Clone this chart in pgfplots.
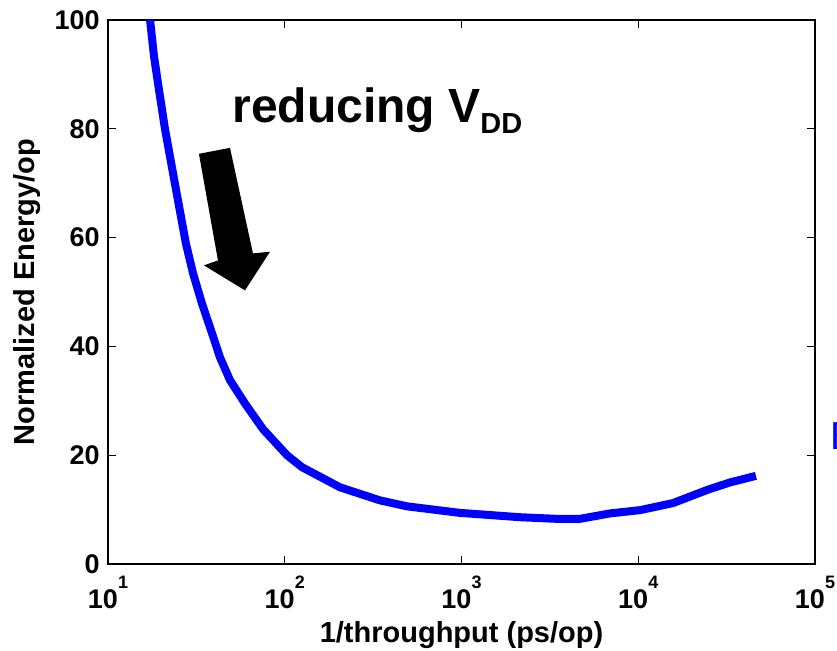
\documentclass[border=0pt]{standalone}
\usepackage{fontspec}
\setmainfont{Liberation Sans}
\usepackage{pgfplots}
\pgfplotsset{compat=1.18}
\newcommand{\tl}{\fontsize{13.5}{13.5}\selectfont\bfseries}
\newcommand{\al}{\fontsize{14.5}{14.5}\selectfont\bfseries}
\newcommand{\ex}[1]{10\raisebox{10pt}{\fontsize{9}{9}\selectfont #1}}
\begin{document}
\begin{tikzpicture}
\begin{axis}[
  name=ax,
  scale only axis,
  width=353.5pt, height=272pt,
  xmode=log, log basis x=10,
  xmin=10, xmax=100000, ymin=0, ymax=100,
  xtick={10,100,1000,10000,100000},
  xticklabels={\ex{1},\ex{2},\ex{3},\ex{4},\ex{5}},
  ytick={0,20,40,60,80,100},
  tick align=inside,
  major tick length=4pt, minor tick length=2pt,
  every tick/.style={black, line width=0.6pt},
  axis line style={line width=1pt, black},
  /pgf/number format/assume math mode=true,
  yticklabel style={font=\tl, anchor=east, inner sep=0pt, xshift=-4pt},
  xticklabel style={font=\tl, anchor=base, inner sep=0pt, yshift=-22pt},
  xlabel={1/throughput (ps/op)},
  ylabel={Normalized Energy/op},
  xlabel style={at={(axis description cs:0.5,-0.1452)}, anchor=base, inner sep=0pt, font=\al},
  ylabel style={at={(axis description cs:-0.1033,0.5)}, anchor=base, inner sep=0pt, font=\al},
  clip mode=individual,
]
\addplot[blue, line width=4pt] coordinates {
(16.9,103.5) (17.3,100) (18.2,93.4) (19.2,88.3) (21.0,80.0) (24.9,66.8)
(27.6,58.9) (30.3,53.4) (34.0,47.9) (38.8,42.4) (43.0,38.0) (49.0,33.8)
(59.6,29.5) (75.3,24.8) (103,20.0) (125.2,17.8) (205.4,14.1) (345.8,11.7)
(491.7,10.6) (980,9.4) (2143,8.6) (3467,8.3) (4677,8.3) (6918,9.3)
(10230,9.9) (15730,11.2) (24490,13.6) (33040,15.0) (46340,16.2)
};
\fill[black] (axis cs:32.7,75.4) -- (axis cs:49.0,76.5) -- (axis cs:66.1,57.1)
  -- (axis cs:82.5,57.4) -- (axis cs:59.6,50.3) -- (axis cs:34.9,54.9)
  -- (axis cs:41.9,55.8) -- cycle;
\node[anchor=base west, inner sep=0pt, font=\fontsize{24}{24}\selectfont\bfseries]
  at (axis cs:50.3,81.1) {reducing V\raisebox{-5.5pt}{\fontsize{14.5}{14.5}\selectfont DD}};
\node[anchor=base west, inner sep=0pt, text=blue, font=\fontsize{19.5}{19.5}\selectfont]
  at (rel axis cs:1.0212,0.2114) {E};
\end{axis}
\pgfresetboundingbox
\path[use as bounding box] ([shift={(-54pt,-43pt)}]ax.south west) rectangle ([shift={(364.5pt,282pt)}]ax.south west);
\end{tikzpicture}
\end{document}
